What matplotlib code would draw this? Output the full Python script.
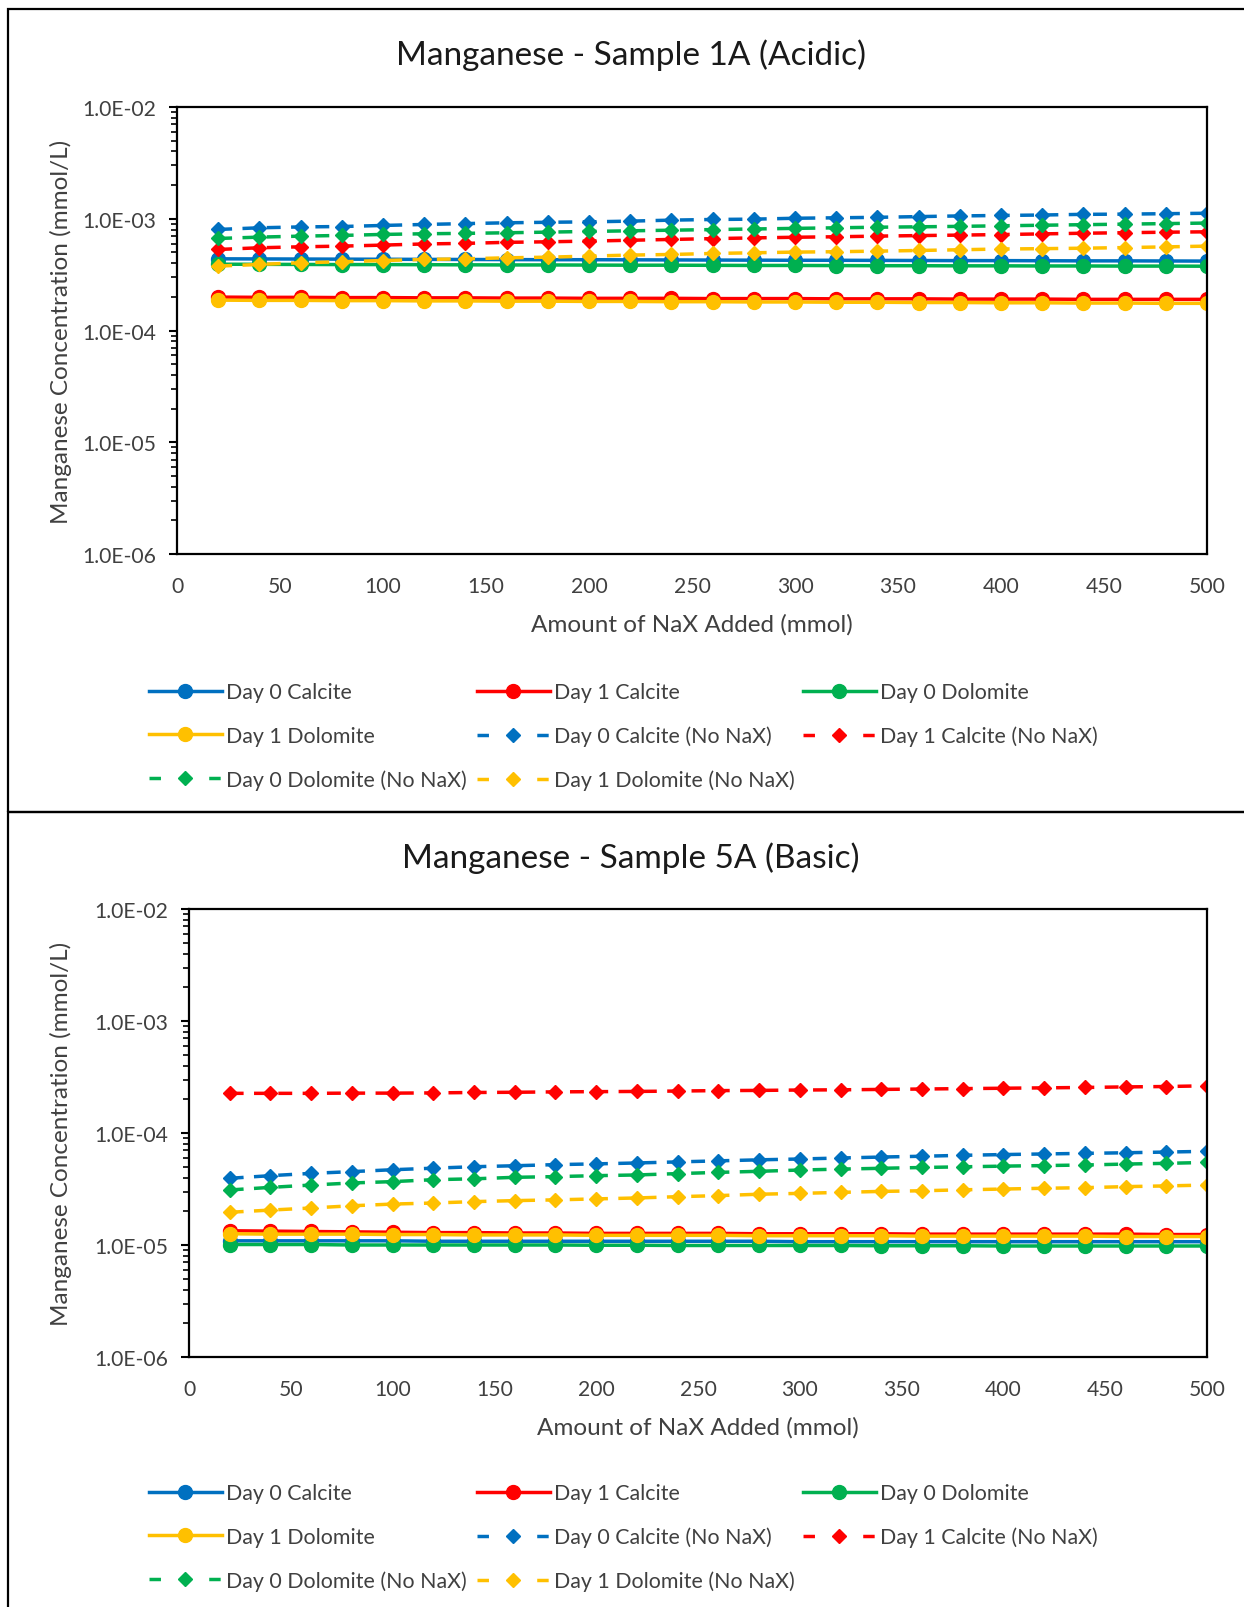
import matplotlib.pyplot as plt
import numpy as np
from matplotlib.ticker import FuncFormatter, LogLocator, NullFormatter
from matplotlib.patches import Rectangle
from matplotlib.lines import Line2D

plt.rcParams['font.family'] = ['Lato', 'DejaVu Sans']

# NaX added (mmol)
nax = np.arange(20, 501, 20)

# Sample 1A (acidic) - Mn concentration (mmol/L)
s1a_d0_calcite = [4.38, 4.37, 4.36, 4.35, 4.34, 4.33, 4.32, 4.31, 4.30, 4.30, 4.29, 4.28, 4.27,
                  4.26, 4.25, 4.25, 4.24, 4.23, 4.22, 4.22, 4.21, 4.20, 4.20, 4.19, 4.18]
s1a_d1_calcite = [1.99, 1.98, 1.98, 1.97, 1.97, 1.96, 1.96, 1.95, 1.95, 1.94, 1.94, 1.94, 1.93,
                  1.93, 1.93, 1.92, 1.92, 1.92, 1.91, 1.91, 1.91, 1.90, 1.90, 1.90, 1.90]
s1a_d0_dolomite = [3.92, 3.91, 3.90, 3.89, 3.89, 3.88, 3.87, 3.86, 3.86, 3.85, 3.84, 3.84, 3.83,
                   3.82, 3.82, 3.81, 3.80, 3.80, 3.79, 3.79, 3.78, 3.78, 3.77, 3.77, 3.76]
s1a_d1_dolomite = [1.87, 1.86, 1.86, 1.85, 1.85, 1.84, 1.84, 1.83, 1.83, 1.82, 1.82, 1.81, 1.81,
                   1.80, 1.80, 1.79, 1.79, 1.78, 1.78, 1.77, 1.77, 1.76, 1.76, 1.75, 1.75]
s1a_d0_calcite_nonax = [8.02, 8.30, 8.45, 8.52, 8.71, 8.89, 9.05, 9.20, 9.30, 9.38, 9.52, 9.72, 9.85,
                        9.92, 10.1, 10.2, 10.3, 10.45, 10.6, 10.7, 10.8, 10.95, 11.0, 11.1, 11.2]
s1a_d1_calcite_nonax = [5.31, 5.50, 5.61, 5.69, 5.81, 5.95, 6.02, 6.15, 6.22, 6.31, 6.42, 6.53, 6.64,
                        6.74, 6.83, 6.90, 6.99, 7.07, 7.14, 7.22, 7.32, 7.42, 7.50, 7.58, 7.64]
s1a_d0_dolomite_nonax = [6.66, 6.85, 6.99, 7.09, 7.24, 7.34, 7.40, 7.49, 7.59, 7.70, 7.80, 7.90, 8.00,
                         8.10, 8.20, 8.30, 8.40, 8.47, 8.55, 8.65, 8.75, 8.85, 8.95, 9.05, 9.15]
s1a_d1_dolomite_nonax = [3.77, 3.90, 4.04, 4.12, 4.23, 4.32, 4.38, 4.47, 4.53, 4.63, 4.73, 4.79, 4.89,
                         4.96, 5.03, 5.07, 5.13, 5.20, 5.28, 5.36, 5.40, 5.45, 5.52, 5.60, 5.69]

# Sample 5A (basic)
s5a_d0_calcite = [1.09, 1.09, 1.09, 1.09, 1.09, 1.08, 1.08, 1.08, 1.08, 1.08, 1.08, 1.08, 1.08,
                  1.08, 1.07, 1.07, 1.07, 1.07, 1.07, 1.07, 1.07, 1.07, 1.07, 1.07, 1.07]
s5a_d1_calcite = [1.34, 1.33, 1.32, 1.31, 1.30, 1.29, 1.29, 1.28, 1.28, 1.27, 1.27, 1.27, 1.27,
                  1.26, 1.26, 1.26, 1.26, 1.25, 1.25, 1.25, 1.25, 1.25, 1.25, 1.24, 1.24]
s5a_d0_dolomite = [1.01, 1.01, 1.01, 1.00, 1.00, 1.00, 1.00, 1.00, 1.00, 0.995, 0.995, 0.99, 0.99,
                   0.99, 0.99, 0.99, 0.985, 0.985, 0.985, 0.98, 0.98, 0.98, 0.98, 0.98, 0.98]
s5a_d1_dolomite = [1.26, 1.25, 1.25, 1.25, 1.24, 1.24, 1.23, 1.23, 1.23, 1.22, 1.22, 1.22, 1.22,
                   1.21, 1.21, 1.21, 1.21, 1.20, 1.20, 1.20, 1.20, 1.20, 1.19, 1.19, 1.19]
s5a_d0_calcite_nonax = [3.94, 4.16, 4.36, 4.52, 4.70, 4.85, 5.00, 5.10, 5.22, 5.30, 5.40, 5.52, 5.64,
                        5.76, 5.86, 5.98, 6.10, 6.20, 6.32, 6.42, 6.50, 6.58, 6.66, 6.76, 6.86]
s5a_d1_calcite_nonax = [22.6, 22.6, 22.6, 22.7, 22.7, 22.8, 23.0, 23.1, 23.3, 23.4, 23.5, 23.7, 23.9,
                        24.0, 24.2, 24.3, 24.5, 24.7, 24.9, 25.1, 25.3, 25.5, 25.8, 26.0, 26.4]
s5a_d0_dolomite_nonax = [3.10, 3.27, 3.43, 3.58, 3.68, 3.83, 3.90, 4.02, 4.08, 4.16, 4.22, 4.34, 4.45,
                         4.55, 4.67, 4.76, 4.84, 4.92, 4.99, 5.06, 5.12, 5.18, 5.28, 5.36, 5.46]
s5a_d1_dolomite_nonax = [1.96, 2.05, 2.14, 2.24, 2.32, 2.37, 2.44, 2.49, 2.53, 2.58, 2.63, 2.70, 2.76,
                         2.84, 2.89, 2.95, 3.01, 3.05, 3.11, 3.16, 3.21, 3.25, 3.32, 3.37, 3.43]

labels = ["Day 0 Calcite", "Day 1 Calcite", "Day 0 Dolomite", "Day 1 Dolomite",
          "Day 0 Calcite (No NaX)", "Day 1 Calcite (No NaX)",
          "Day 0 Dolomite (No NaX)", "Day 1 Dolomite (No NaX)"]
colors = ['#0070C0', '#FF0000', '#00B050', '#FFC000'] * 2

s1a = [np.array(s1a_d0_calcite) * 1e-4, np.array(s1a_d1_calcite) * 1e-4,
       np.array(s1a_d0_dolomite) * 1e-4, np.array(s1a_d1_dolomite) * 1e-4,
       np.array(s1a_d0_calcite_nonax) * 1e-4, np.array(s1a_d1_calcite_nonax) * 1e-4,
       np.array(s1a_d0_dolomite_nonax) * 1e-4, np.array(s1a_d1_dolomite_nonax) * 1e-4]
s5a = [np.array(s5a_d0_calcite) * 1e-5, np.array(s5a_d1_calcite) * 1e-5,
       np.array(s5a_d0_dolomite) * 1e-5, np.array(s5a_d1_dolomite) * 1e-5,
       np.array(s5a_d0_calcite_nonax) * 1e-5, np.array(s5a_d1_calcite_nonax) * 1e-5,
       np.array(s5a_d0_dolomite_nonax) * 1e-5, np.array(s5a_d1_dolomite_nonax) * 1e-5]

W, H = 1244, 1608
fig = plt.figure(figsize=(W / 100, H / 100), dpi=100)

# chart area frames
fig.add_artist(Rectangle((8 / W, 1 - 813 / H), 1.1, 803 / H, transform=fig.transFigure,
                         fill=False, lw=1.6, ec='black'))
fig.add_artist(Rectangle((8 / W, -0.1), 1.1, 1 - 813 / H + 0.1, transform=fig.transFigure,
                         fill=False, lw=1.6, ec='black'))

txt = '#404040'


def panel(rect, data, title, title_y, leg_y, ylabelpad):
    ax = fig.add_axes(rect)
    handles = []
    for i, vals in enumerate(data):
        if i < 4:
            ax.plot(nax, vals, color=colors[i], lw=2.5, marker='o', ms=10)
            h = Line2D([], [], color=colors[i], lw=2.5, marker='o', ms=10)
        else:
            ax.plot(nax, vals, color=colors[i], lw=2.5, ls=(0, (4, 3)), marker='D', ms=7)
            # legend sample: short dash, diamond, short dash
            h = Line2D([], [], color=colors[i], lw=2.5, ls=(0, (3.3, 13.9)), marker='D', ms=7)
        handles.append(h)
    ax.set_yscale('log')
    ax.set_ylim(1e-6, 1e-2)
    ax.set_xlim(0, 500)
    ax.set_xticks(range(0, 501, 50))
    ax.yaxis.set_major_locator(LogLocator(base=10, numticks=10))
    ax.yaxis.set_minor_locator(LogLocator(base=10, subs=np.arange(2, 10), numticks=20))
    ax.yaxis.set_minor_formatter(NullFormatter())
    ax.yaxis.set_major_formatter(FuncFormatter(lambda v, p: f"{v:.1E}"))
    ax.tick_params(axis='x', length=0, pad=16, labelsize=15.2, labelcolor=txt)
    ax.tick_params(axis='y', which='major', length=6, width=1.5, pad=9, labelsize=15.2, labelcolor=txt)
    ax.tick_params(axis='y', which='minor', length=4, width=1.2)
    for s in ax.spines.values():
        s.set_linewidth(1.6)
    ax.set_xlabel("Amount of NaX Added (mmol)", fontsize=17.5, color=txt, labelpad=12)
    ax.set_ylabel("Manganese Concentration (mmol/L)", fontsize=17.5, color=txt, labelpad=ylabelpad)
    fig.text(631 / W, 1 - title_y / H, title, ha='center', va='center', fontsize=24, color='#1a1a1a')

    # legend laid out in rows like the spreadsheet: three columns of equal width
    cols = [[0, 3, 6], [1, 4, 7], [2, 5]]
    col_x = [149, 477, 803]
    for cx, idx in zip(col_x, cols):
        fig.legend([handles[k] for k in idx], [labels[k] for k in idx], loc='upper left',
                   bbox_to_anchor=(cx / W, 1 - leg_y / H), frameon=False, borderpad=0,
                   borderaxespad=0, handlelength=3.4, handletextpad=0.22, labelspacing=1.1,
                   fontsize=15.4, labelcolor=txt, numpoints=1)
    return ax


panel([177 / W, 1 - 555 / H, 1030 / W, 447 / H], s1a, "Manganese - Sample 1A (Acidic)", 55, 683, 7.3)
panel([189 / W, 1 - 1358 / H, 1018 / W, 448 / H], s5a, "Manganese - Sample 5A (Basic)", 858, 1484, 16)

fig.savefig("out.png", dpi=100)
